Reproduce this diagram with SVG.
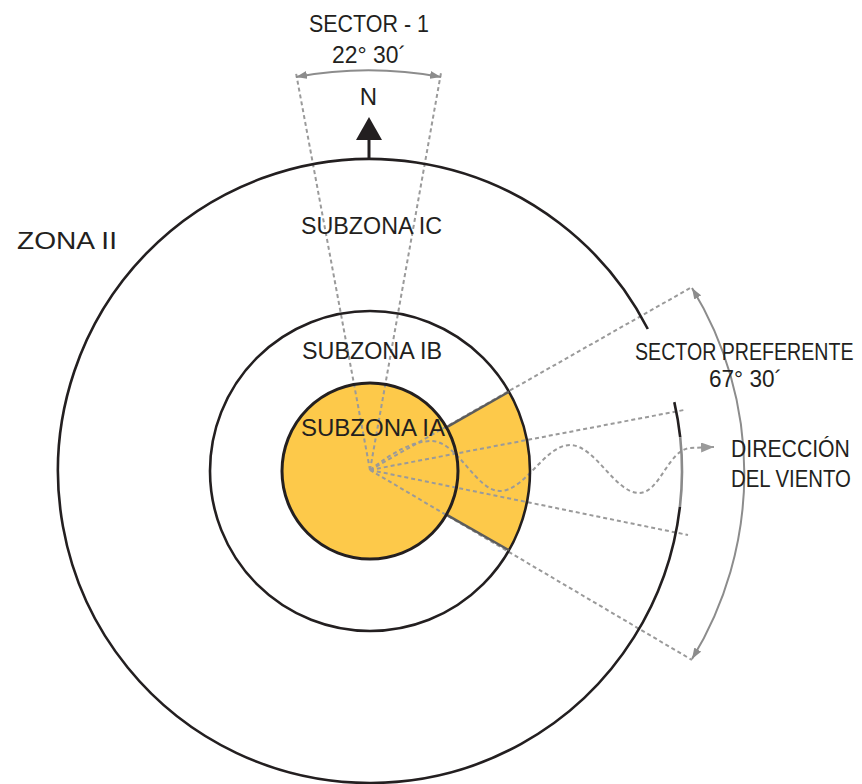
<svg xmlns="http://www.w3.org/2000/svg" width="862" height="784" viewBox="0 0 862 784">
  <style>
    .lbl { font-family: "Liberation Sans", Arial, sans-serif; fill: #231f20; font-size: 24px; }
    .ring { fill: none; stroke: #231f20; stroke-width: 2.6; }
    .dash { fill: none; stroke: #9a9a9a; stroke-width: 2; stroke-dasharray: 4 3; }
    .dim { fill: none; stroke: #8c8c8c; stroke-width: 2; }
    .edge { fill: none; stroke: #5c5c5c; stroke-width: 2.4; }
  </style>
  <defs>
    <marker id="dimArrow" markerUnits="userSpaceOnUse" markerWidth="11" markerHeight="8" refX="11" refY="4" orient="auto-start-reverse">
      <path d="M0,0 L11,4 L0,8 Z" fill="#8c8c8c"/>
    </marker>
    <marker id="windArrow" markerUnits="userSpaceOnUse" markerWidth="13" markerHeight="10" refX="13" refY="5" orient="auto">
      <path d="M0,0 L13,5 L0,10 Z" fill="#9a9a9a"/>
    </marker>
  </defs>
  <rect width="862" height="784" fill="#ffffff"/>

  <!-- Subzona IA: inner disc and the preferred sector band -->
  <g id="subzona-ia-fill">
    <circle cx="370" cy="471" r="88" fill="#fdc94a"/>
    <path d="M446.4,427.4 L509,391.7 A160 160 0 0 1 509,550.3 L446.4,514.6 A88 88 0 0 0 446.4,427.4 Z" fill="#fdc94a"/>
  </g>

  <!-- connectors: sector boundaries, dimension arcs and wind direction -->
  <g id="connectors">
    <!-- sector 1 boundaries -->
    <line class="dash" x1="370" y1="470" x2="296" y2="73"/>
    <line class="dash" x1="370" y1="470" x2="441" y2="73"/>
    <!-- preferred sector boundaries -->
    <line class="dash" x1="370" y1="470" x2="692" y2="287"/>
    <line class="dash" x1="370" y1="470" x2="692" y2="660"/>
    <line class="dash" x1="370" y1="470" x2="684" y2="410"/>
    <line class="dash" x1="370" y1="470" x2="688" y2="535"/>
    <!-- wind direction -->
    <path class="dash" d="M370,470 C392,453 412,441 432,441 C458,442 476,491 500,491 C525,491 545,445 570,445 C595,445 615,493 639,493 C660,493 668,450 690,448 L714,447" marker-end="url(#windArrow)"/>
    <!-- angle dimensions -->
    <path class="dim" d="M296,77 A399 399 0 0 1 441,77" marker-start="url(#dimArrow)" marker-end="url(#dimArrow)"/>
    <path class="dim" d="M692,288 A355 355 0 0 1 692,659" marker-start="url(#dimArrow)" marker-end="url(#dimArrow)"/>
  </g>

  <!-- Zona II outer limit, open where the sector label sits -->
  <g id="zona-ii">
    <path class="ring" d="M674.3,402.1 A312 312 0 0 1 680.2,437.1"/>
    <path d="M680.2,437.1 A312 312 0 0 1 679.9,506.9" fill="none" stroke="#8a8a8a" stroke-width="2.6"/>
    <path class="ring" d="M679.9,506.9 A312 312 0 1 1 647.8,329.0"/>
    <text class="lbl" x="17" y="249" font-size="25" textLength="100" lengthAdjust="spacingAndGlyphs">ZONA II</text>
  </g>

  <g id="subzona-ic">
    <text class="lbl" x="301" y="234" textLength="141" lengthAdjust="spacingAndGlyphs">SUBZONA IC</text>
  </g>

  <g id="subzona-ib">
    <circle class="ring" cx="370" cy="471" r="160"/>
    <text class="lbl" x="302" y="359" textLength="140" lengthAdjust="spacingAndGlyphs">SUBZONA IB</text>
  </g>

  <g id="subzona-ia">
    <line class="edge" x1="446.4" y1="427.4" x2="509" y2="391.7"/>
    <line class="edge" x1="446.4" y1="514.6" x2="509" y2="550.3"/>
    <circle cx="370" cy="471" r="88" fill="none" stroke="#231f20" stroke-width="3"/>
    <text class="lbl" x="301" y="436" textLength="144" lengthAdjust="spacingAndGlyphs">SUBZONA IA</text>
  </g>

  <!-- north arrow -->
  <g id="north">
    <line x1="369" y1="138" x2="369" y2="159" stroke="#231f20" stroke-width="3"/>
    <path d="M369,117 L356,140 L382,140 Z" fill="#231f20"/>
    <text class="lbl" x="368.5" y="105" text-anchor="middle">N</text>
  </g>

  <g id="sector-1">
    <text class="lbl" x="309" y="32" textLength="120" lengthAdjust="spacingAndGlyphs">SECTOR - 1</text>
    <text class="lbl" x="332" y="63" textLength="74" lengthAdjust="spacingAndGlyphs">22° 30´</text>
  </g>

  <!-- labels near the right edge are narrowed with a horizontal scale -->
  <g id="sector-preferente">
    <text class="lbl" transform="translate(635,360) scale(0.817,1)">SECTOR PREFERENTE</text>
    <text class="lbl" x="709" y="387" textLength="73" lengthAdjust="spacingAndGlyphs">67° 30´</text>
  </g>

  <g id="direccion-viento">
    <text class="lbl" transform="translate(731,457) scale(0.883,1)">DIRECCIÓN</text>
    <text class="lbl" transform="translate(731,487) scale(0.848,1)">DEL VIENTO</text>
  </g>
</svg>
